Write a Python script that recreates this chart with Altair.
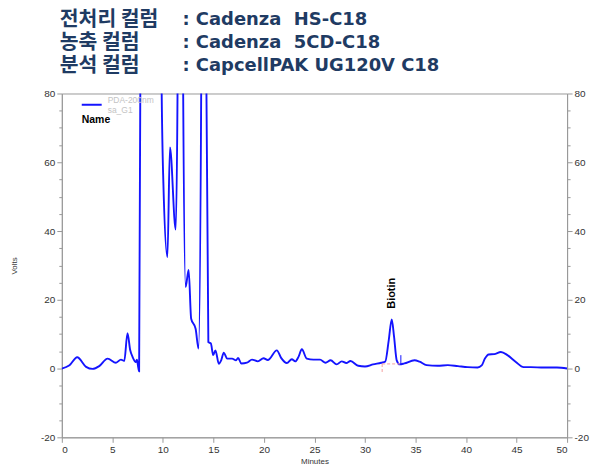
import altair as alt
import pandas as pd

# ---- data ----
time_min = [0, 0.76, 1.52, 2.4, 3.05, 3.7, 4.53, 5.36, 5.85, 6.18, 6.5, 6.77, 7.0, 7.33, 7.43, 7.53,
            7.65, 7.78, 7.8, 9.8, 9.85, 10.05, 10.45, 10.7, 11.27, 11.45, 11.5, 11.95, 12.0, 12.25,
            12.55, 12.8, 13.24, 13.53, 13.8, 13.85, 14.25, 14.3, 14.5, 14.75, 14.98, 15.2, 15.54,
            15.77, 16.03, 16.36, 16.85, 17.24, 17.44, 17.77, 18.32, 18.82, 19.4, 19.96, 20.38,
            21.28, 21.7, 22.27, 22.76, 23.1, 23.42, 23.75, 24.24, 24.9, 25.55, 26.1, 26.6, 27.2,
            27.7, 28.15, 28.57, 29.33, 30.0, 30.8, 31.6, 32.0, 32.35, 32.65, 32.88, 33.14, 33.44,
            33.9, 34.9, 35.4, 36.1, 37.2, 38.2, 39.2, 40.17, 41.15, 41.55, 41.87, 42.24, 42.79,
            43.45, 44.1, 44.93, 45.7, 46.4, 47.7, 49.0, 50]
volts = [0, 0.96, 3.3, 0.5, -0.1, 0.7, 2.9, 1.7, 2.6, 2.2, 10.3, 5.3, 3.4, 1.9, 2.6, 0.96,
         -0.8, 90, 200, 200, 90, 54, 32.4, 64.3, 40.4, 80, 200, 200, 85, 23.7,
         28.7, 14.5, 11.6, 5.8, 85, 200, 200, 85, 7.7, 7.3, 3.9, 5.3, 1.4,
         2.4, 4.6, 2.9, 2.9, 2.4, 3.1, 1.45, 1.7, 2.6, 2.1, 3.0, 2.5,
         5.3, 3.1, 1.6, 2.7, 2.1, 3.4, 5.6, 2.9, 2.6, 2.6, 1.7, 2.4, 1.2,
         2.1, 1.6, 2.2, 0.8, 0.6, 1.2, 1.7, 2.0, 8.2, 14.3, 9.2, 2.4, 1.2,
         1.5, 2.4, 2.0, 1.0, 0.8, 1.0, 0.7, 0.4, 0.3, 0.9, 2.9, 4.1, 4.2,
         4.8, 3.9, 1.9, 0.4, 0.4, 0.3, 0.3, 0]

peak_name = ["Biotin"]
peak_time = [32.7]
peak_label_v = [21.9]

# integration baseline markers
base_t = [31.7, 31.7]
base_t2 = [31.7, 33.5]
base_v = [-1.0, 1.35]
base_v2 = [1.5, 1.35]
end_t = [33.55]
end_v = [1.25]
end_v2 = [3.9]

title_left = ["전처리 컬럼", "농축 컬럼", "분석 컬럼"]
title_right = [": Cadenza\u00a0 HS-C18", ": Cadenza\u00a0 5CD-C18", ": CapcellPAK UG120V C18"]
legend_lines = ["PDA-200nm", "sa_G1"]
legend_head = "Name"

x_ticks = list(range(0, 51, 5))
y_ticks = list(range(-20, 81, 5))

# ---- chart ----
W, H = 507, 345
BLUE = "#1414ff"
AX = "#999999"
FONT = "Liberation Sans"

xs = alt.Scale(domain=[0, 50], nice=False, zero=False)
ys = alt.Scale(domain=[-20, 80], nice=False, zero=False)

x_axis = alt.Axis(values=x_ticks, title="Minutes", grid=False, domainColor=AX, tickColor=AX,
                  tickSize=5, labelFont=FONT, labelFontSize=10, labelColor="#333",
                  titleFont=FONT, titleFontSize=8, titleFontWeight="normal", titleColor="#333",
                  titleX=W / 2, titleY=24, titleBaseline="middle", labelPadding=2)

tick_cond = {"condition": {"test": "datum.value % 20 === 0", "value": 5}, "value": 3}
lab_expr = "datum.value % 20 === 0 ? '' + datum.value : ''"


def y_axis(orient, title=None):
    kw = dict(orient=orient, values=y_ticks, labelExpr=lab_expr, tickSize=tick_cond, grid=False,
              domainColor=AX, tickColor=AX, labelFont=FONT, labelFontSize=10, labelColor="#333",
              labelPadding=2)
    if title:
        kw.update(title=title, titleFont=FONT, titleFontSize=8, titleFontWeight="normal",
                  titleColor="#333", titleAngle=270, titleX=-47, titleY=H / 2,
                  titleAlign="center", titleBaseline="middle")
    else:
        kw.update(title=None)
    return alt.Axis(**kw)


trace = pd.DataFrame({"t": time_min, "v": volts})
X = alt.X("t:Q", scale=xs, axis=x_axis)

line = alt.Chart(trace).mark_line(color=BLUE, strokeWidth=1.9, clip=True,
                                  interpolate="monotone").encode(
    x=X, y=alt.Y("v:Q", scale=ys, axis=y_axis("left", "Volts")))

rules_df = pd.DataFrame({"t": base_t, "t2": base_t2, "v": base_v, "v2": base_v2})
base = alt.Chart(rules_df).mark_rule(color="#f4a0a0", strokeWidth=1, strokeDash=[3, 2]).encode(
    x=X, x2="t2:Q", y=alt.Y("v:Q", scale=ys, axis=y_axis("right")), y2="v2:Q")

end_df = pd.DataFrame({"t": end_t, "v": end_v, "v2": end_v2})
endm = alt.Chart(end_df).mark_rule(color=BLUE, strokeWidth=1).encode(
    x=X, y=alt.Y("v:Q", scale=ys, axis=None), y2="v2:Q")

lab_df = pd.DataFrame({"t": peak_time, "v": peak_label_v, "name": peak_name})
lab = alt.Chart(lab_df).mark_text(angle=270, font=FONT, fontSize=11, fontWeight="bold",
                                  color="black", align="center", baseline="middle").encode(
    x=X, y=alt.Y("v:Q", scale=ys, axis=None), text="name:N")

layers = []

# legend (drawn under the trace)
for i, s in enumerate(legend_lines):
    layers.append(alt.Chart(pd.DataFrame({"s": [s]})).mark_text(
        font=FONT, fontSize=8.5, color="#c4c4c4", align="left", baseline="middle").encode(
        x=alt.value(46), y=alt.value(6.6 + 9.7 * i), text="s:N"))
layers.append(alt.Chart(pd.DataFrame({"s": [legend_head]})).mark_text(
    font=FONT, fontSize=10.5, fontWeight="bold", color="black", align="left",
    baseline="middle").encode(x=alt.value(20), y=alt.value(27), text="s:N"))
layers.append(alt.Chart(pd.DataFrame({"s": [legend_head]})).mark_rule(
    color=BLUE, strokeWidth=2).encode(x=alt.value(20), x2=alt.value(40), y=alt.value(11.3)))

# title block
NAVY = "#1f3b63"
for i in range(3):
    yv = -74 + 23 * i
    layers.append(alt.Chart(pd.DataFrame({"s": [title_left[i]]})).mark_text(
        font="Noto Sans CJK KR", fontSize=20.5, fontWeight="bold", color=NAVY, align="left",
        baseline="middle").encode(x=alt.value(-2), y=alt.value(yv), text="s:N"))
    layers.append(alt.Chart(pd.DataFrame({"s": [title_right[i]]})).mark_text(
        font="DejaVu Sans", fontSize=18, fontWeight="bold", color=NAVY, align="left",
        baseline="middle").encode(x=alt.value(121), y=alt.value(yv), text="s:N"))

chart = alt.layer(line, base, endm, lab, *layers).resolve_axis(y="independent").properties(
    width=W, height=H, autosize="none",
    padding={"left": 54, "top": 85, "right": 25, "bottom": 30},
).configure_view(stroke=AX, strokeWidth=1)

chart.save("out.html", embed_options={"renderer": "svg", "actions": False})
